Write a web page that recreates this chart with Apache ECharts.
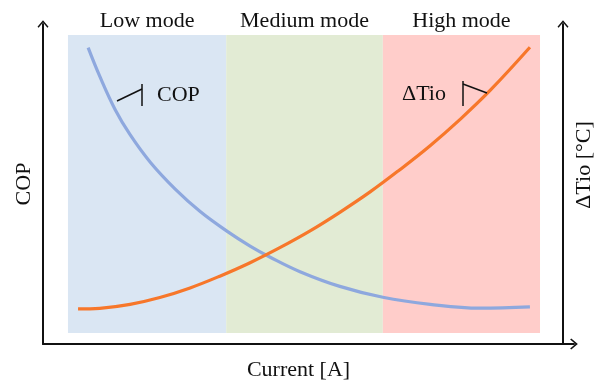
<!DOCTYPE html>
<html>
<head>
<meta charset="utf-8">
<script src="https://cdn.jsdelivr.net/npm/echarts@6/dist/echarts.min.js"></script>
<style>html,body{margin:0;padding:0;background:#fff}#c{width:597px;height:383px}</style>
</head>
<body>
<div id="c"></div>
<script>
// Data (arbitrary units)
const copCurrent = [0.85,1.07,1.36,1.64,2.02,2.49,2.96,3.47,3.90,4.27,4.84,5.59,6.40,7.29,8.23,9.17];
const copValues  = [4.63,4.18,3.66,3.27,2.84,2.42,2.07,1.76,1.53,1.36,1.13,0.90,0.73,0.62,0.56,0.58];
const dtCurrent  = [0.66,1.07,1.64,2.20,2.77,3.33,3.90,4.46,5.03,5.59,6.16,6.72,7.29,7.85,8.42,9.17];
const dtValues   = [4.38,4.46,4.95,5.81,7.01,8.48,10.16,12.04,14.14,16.46,19.01,21.79,24.79,28.05,31.69,37.09];
const modeNames  = ['Low mode','Medium mode','High mode'];
const modeBounds = [0.47,3.45,6.40,9.36];
const modeCopRange = [0.17,4.83];
const modeColors = ['#dae6f3','#e2ebd4','#ffcdca'];

const serif = 'Liberation Serif';
const arrow = 'path://M5,0 L10,6 L9,7 L5,2.2 L1,7 L0,6 Z';

const chart = echarts.init(document.getElementById('c'), null, {renderer:'canvas'});
const axisLine = {onZero:false, lineStyle:{color:'#111', width:2}, symbol:['none', arrow], symbolSize:[11,8]};

const areas = modeNames.map((n,i)=>[
  {name:n, xAxis:modeBounds[i], yAxis:modeCopRange[0], itemStyle:{color:modeColors[i]}},
  {xAxis:modeBounds[i+1], yAxis:modeCopRange[1]}
]);

chart.setOption({
  animation:false,
  grid:{left:43, right:23, top:24, bottom:39, containLabel:false, outerBoundsMode:'none'},
  xAxis:{type:'value', min:0, max:10, axisLine:axisLine, axisTick:{show:false}, axisLabel:{show:false}, splitLine:{show:false},
    name:'Current [A]', nameLocation:'middle', nameGap:15,
    nameTextStyle:{fontFamily:serif, fontSize:22, color:'#111', padding:[0,20,0,0]}},
  yAxis:[
    {type:'value', min:0, max:5, position:'left', axisLine:axisLine, axisTick:{show:false}, axisLabel:{show:false}, splitLine:{show:false},
      name:'COP', nameLocation:'middle', nameGap:8, nameTextStyle:{fontFamily:serif, fontSize:22, color:'#111'}},
    {type:'value', min:0, max:40, position:'right', offset:-11, axisLine:axisLine, axisTick:{show:false}, axisLabel:{show:false}, splitLine:{show:false},
      name:'ΔTio [°C]', nameLocation:'middle', nameGap:10, nameTextStyle:{fontFamily:serif, fontSize:22, color:'#111', padding:[0,0,0,38]}}
  ],
  series:[
    {type:'line', data:[], z:1, silent:true,
      markArea:{silent:true, label:{show:true, position:'top', distance:3, fontFamily:serif, fontSize:22, color:'#111'}, data:areas}},
    {type:'line', name:'COP', yAxisIndex:0, smooth:0.4, symbol:'none', z:3,
      lineStyle:{color:'#8ea8de', width:3.2},
      data:copCurrent.map((x,i)=>[x,copValues[i]])},
    {type:'line', name:'ΔTio', yAxisIndex:1, smooth:0.4, symbol:'none', z:3,
      lineStyle:{color:'#f7772a', width:3.2},
      data:dtCurrent.map((x,i)=>[x,dtValues[i]])}
  ],
  graphic:[
    {type:'text', left:157, top:84, style:{text:'COP', font:'22px "Liberation Serif"', fill:'#111'}, z:10},
    {type:'text', left:402, top:83, style:{text:'ΔTio', font:'22px "Liberation Serif"', fill:'#111'}, z:10},
    {type:'polyline', shape:{points:[[117,101],[142,89]]}, style:{stroke:'#111', lineWidth:1.5, fill:null}, z:10},
    {type:'polyline', shape:{points:[[142,84],[142,106]]}, style:{stroke:'#111', lineWidth:1.5, fill:null}, z:10},
    {type:'polyline', shape:{points:[[463,81],[463,106]]}, style:{stroke:'#111', lineWidth:1.5, fill:null}, z:10},
    {type:'polyline', shape:{points:[[463,84],[487,93]]}, style:{stroke:'#111', lineWidth:1.5, fill:null}, z:10}
  ]
});
</script>
</body>
</html>
